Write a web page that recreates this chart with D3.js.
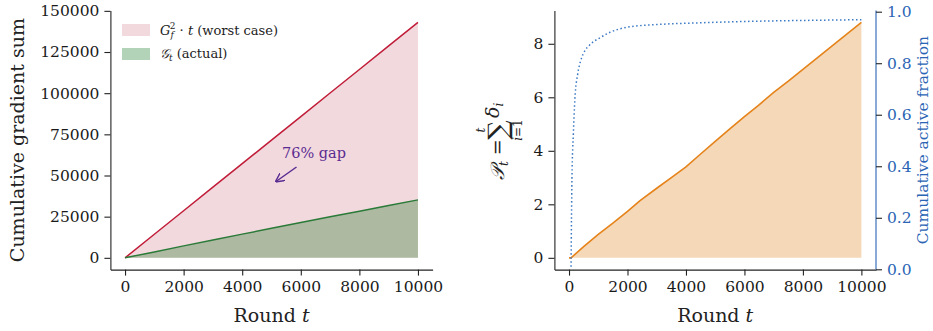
<!DOCTYPE html>
<html>
<head>
<meta charset="utf-8">
<script src="https://cdn.jsdelivr.net/npm/d3@7"></script>
<style>
  body { margin: 0; background: #fff; }
  svg text { font-family: "DejaVu Serif", serif; fill: #222; }
</style>
</head>
<body>
<div id="wrapper"></div>
<script>
// left panel data
const rounds = [0, 1000, 2000, 3000, 4000, 5000, 6000, 7000, 8000, 9000, 10000];
const worstCase = [0, 14300, 28600, 42900, 57200, 71500, 85800, 100100, 114400, 128700, 143000];
const actualSum = [0, 3600, 7250, 10800, 14400, 17900, 21400, 24900, 28350, 31800, 35200];
const gapLabel = "76% gap";

// right panel data
const pRounds = [0, 70, 500, 1000, 1500, 2000, 2430, 3000, 3500, 4000, 4500, 5000, 5500, 6000, 6500, 7000, 7500, 8000, 8500, 9000, 9500, 10000];
const pValues = [0, 0, 0.42, 0.88, 1.30, 1.74, 2.14, 2.60, 3.00, 3.40, 3.88, 4.35, 4.82, 5.28, 5.72, 6.18, 6.60, 7.04, 7.48, 7.92, 8.36, 8.80];
const fracRounds = [70, 100, 150, 200, 300, 400, 550, 700, 850, 1000, 1400, 2000, 3000, 4500, 6000, 8000, 10000];
const fracValues = [0.01, 0.35, 0.53, 0.66, 0.76, 0.81, 0.85, 0.87, 0.885, 0.895, 0.92, 0.94, 0.95, 0.957, 0.962, 0.966, 0.969];

const xTicks = [0, 2000, 4000, 6000, 8000, 10000];
const leftYTicks = [0, 25000, 50000, 75000, 100000, 125000, 150000];
const pTicks = [0, 2, 4, 6, 8];
const fracTicks = [0, 0.2, 0.4, 0.6, 0.8, 1.0];

const W = 933, H = 331;
const yTop = 10.6, yBottom = 269.6;
const tickFont = 15.5, labelFont = 19;

const svg = d3.select("#wrapper").append("svg")
    .attr("width", W).attr("height", H);

const defs = svg.append("defs");
defs.append("marker")
    .attr("id", "arrow")
    .attr("viewBox", "0 0 10 10")
    .attr("refX", 9).attr("refY", 5)
    .attr("markerWidth", 9).attr("markerHeight", 9)
    .attr("markerUnits", "userSpaceOnUse")
    .attr("orient", "auto")
    .append("path")
    .attr("d", "M0,0 L10,5 L0,10")
    .attr("fill", "none")
    .attr("stroke", "#5b2c91")
    .attr("stroke-width", 1.6);

function styleAxis(g, color) {
    g.selectAll(".domain").attr("stroke", color || "#222").attr("stroke-width", 1.1);
    g.selectAll(".tick line").attr("stroke", "#222").attr("stroke-width", 1.1);
    g.selectAll(".tick text")
        .style("font-family", "DejaVu Serif, serif")
        .style("font-size", tickFont + "px")
        .style("fill", color || "#1a1a1a");
}

// ---------- left panel ----------
const xL = d3.scaleLinear().domain([-500, 10500]).range([110.4, 432.6]);
const yL = d3.scaleLinear().domain([-7150, 150150]).range([yBottom, yTop]);

const left = svg.append("g");

const worstArea = d3.area()
    .x((d, i) => xL(rounds[i]))
    .y0(yL(0))
    .y1(d => yL(d));
left.append("path")
    .attr("d", worstArea(worstCase))
    .attr("fill", "#f2d9de");
left.append("path")
    .attr("d", worstArea(actualSum))
    .attr("fill", "#2e7d32").attr("fill-opacity", 0.35);

const lineL = d3.line()
    .x((d, i) => xL(rounds[i]))
    .y(d => yL(d));
left.append("path")
    .attr("d", lineL(worstCase))
    .attr("fill", "none").attr("stroke", "#c01c38").attr("stroke-width", 1.5);
left.append("path")
    .attr("d", lineL(actualSum))
    .attr("fill", "none").attr("stroke", "#2a7a38").attr("stroke-width", 1.5);

left.append("g")
    .attr("transform", `translate(0,${yBottom})`)
    .call(d3.axisBottom(xL).tickValues(xTicks).tickSize(6).tickSizeOuter(0).tickPadding(5).tickFormat(d3.format("d")))
    .call(g => styleAxis(g));
left.append("g")
    .attr("transform", `translate(${xL.range()[0]},0)`)
    .call(d3.axisLeft(yL).tickValues(leftYTicks).tickSize(6).tickSizeOuter(0).tickPadding(5).tickFormat(d3.format("d")))
    .call(g => styleAxis(g));

left.append("text")
    .attr("x", xL(5000)).attr("y", 322)
    .attr("text-anchor", "middle")
    .style("font-size", labelFont + "px")
    .html('Round <tspan font-style="italic">t</tspan>');

left.append("text")
    .attr("transform", `translate(24,${(yTop + yBottom) / 2}) rotate(-90)`)
    .attr("text-anchor", "middle")
    .style("font-size", labelFont + "px")
    .text("Cumulative gradient sum");

// legend
const legend = left.append("g");
legend.append("rect").attr("x", 122).attr("y", 24).attr("width", 28).attr("height", 12).attr("fill", "#f2d9de");
legend.append("rect").attr("x", 122).attr("y", 48).attr("width", 28).attr("height", 12).attr("fill", "#b3d3b9");
legend.append("text")
    .attr("x", 160).attr("y", 35)
    .style("font-size", "13px")
    .html('<tspan font-style="italic">G</tspan><tspan font-style="italic" font-size="9px" dy="3">f</tspan><tspan font-size="9px" dx="-4" dy="-9">2</tspan><tspan dy="6"> · </tspan><tspan font-style="italic">t</tspan> (worst case)');
legend.append("text")
    .attr("x", 160).attr("y", 58)
    .style("font-size", "13px")
    .html('<tspan font-style="italic">𝒢</tspan><tspan font-style="italic" font-size="9px" dy="3">t</tspan><tspan dy="-3"> (actual)</tspan>');

// annotation
left.append("text")
    .attr("x", 282).attr("y", 158)
    .style("font-size", "14.5px")
    .style("fill", "#5b2c91")
    .text(gapLabel);
left.append("line")
    .attr("x1", 296.5).attr("y1", 167)
    .attr("x2", 276).attr("y2", 181.5)
    .attr("stroke", "#5b2c91").attr("stroke-width", 1.5)
    .attr("marker-end", "url(#arrow)");

// ---------- right panel ----------
const xR = d3.scaleLinear().domain([-500, 10500]).range([554.4, 876]);
const yR = d3.scaleLinear().domain([-0.44, 9.24]).range([yBottom, yTop]);
const yF = d3.scaleLinear().domain([0, 1]).range([269.3, 11.7]);

const right = svg.append("g");

right.append("path")
    .attr("d", d3.area()
        .x((d, i) => xR(pRounds[i]))
        .y0(yR(0))
        .y1(d => yR(d))(pValues))
    .attr("fill", "#f5d8b7");
right.append("path")
    .attr("d", d3.line()
        .x((d, i) => xR(pRounds[i]))
        .y(d => yR(d))(pValues))
    .attr("fill", "none").attr("stroke", "#e5831a").attr("stroke-width", 1.6);

right.append("path")
    .attr("d", d3.line()
        .curve(d3.curveMonotoneX)
        .x((d, i) => xR(fracRounds[i]))
        .y(d => yF(d))(fracValues))
    .attr("fill", "none").attr("stroke", "#3a78c4").attr("stroke-width", 1.5)
    .attr("stroke-dasharray", "1.5,2.5");

right.append("g")
    .attr("transform", `translate(0,${yBottom})`)
    .call(d3.axisBottom(xR).tickValues(xTicks).tickSize(6).tickSizeOuter(0).tickPadding(5).tickFormat(d3.format("d")))
    .call(g => styleAxis(g));
right.append("g")
    .attr("transform", `translate(${xR.range()[0]},0)`)
    .call(d3.axisLeft(yR).tickValues(pTicks).tickSize(6).tickSizeOuter(0).tickPadding(5).tickFormat(d3.format("d")))
    .call(g => styleAxis(g));
right.append("g")
    .attr("transform", `translate(${xR.range()[1]},0)`)
    .call(d3.axisRight(yF).tickValues(fracTicks).tickSize(6).tickSizeOuter(0).tickPadding(5).tickFormat(d3.format(".1f")))
    .call(g => styleAxis(g, "#2a64b4"))
    .call(g => g.select(".domain").attr("d", `M0,${yBottom}V${yTop}`));

right.append("text")
    .attr("x", xR(5000)).attr("y", 322)
    .attr("text-anchor", "middle")
    .style("font-size", labelFont + "px")
    .html('Round <tspan font-style="italic">t</tspan>');

right.append("text")
    .attr("transform", `translate(932,${(yTop + yBottom) / 2}) rotate(-90)`)
    .attr("text-anchor", "middle")
    .attr("dy", "-0.25em")
    .style("font-size", "15.5px")
    .style("fill", "#2a64b4")
    .text("Cumulative active fraction");

// P_t = sum delta_i label (rotated; local x runs up the page)
const plab = right.append("g")
    .attr("transform", `translate(504,140) rotate(-90)`);
plab.append("text")
    .attr("x", -40).attr("y", 0)
    .style("font-size", "19px")
    .html('<tspan font-style="italic">𝒫</tspan><tspan font-style="italic" font-size="12px" dy="4">t</tspan><tspan dy="-4"> = </tspan>');
plab.append("text")
    .attr("x", 10).attr("y", 3)
    .attr("text-anchor", "middle")
    .style("font-size", "27px")
    .text("∑");
plab.append("text")
    .attr("x", 10).attr("y", -19)
    .attr("text-anchor", "middle")
    .style("font-size", "12px").style("font-style", "italic")
    .text("t");
plab.append("text")
    .attr("x", 10).attr("y", 18)
    .attr("text-anchor", "middle")
    .style("font-size", "12px")
    .html('<tspan font-style="italic">i</tspan>=1');
plab.append("text")
    .attr("x", 22).attr("y", -5)
    .style("font-size", "19px")
    .html('<tspan font-style="italic">δ</tspan><tspan font-style="italic" font-size="12px" dy="4">i</tspan>');
</script>
</body>
</html>
